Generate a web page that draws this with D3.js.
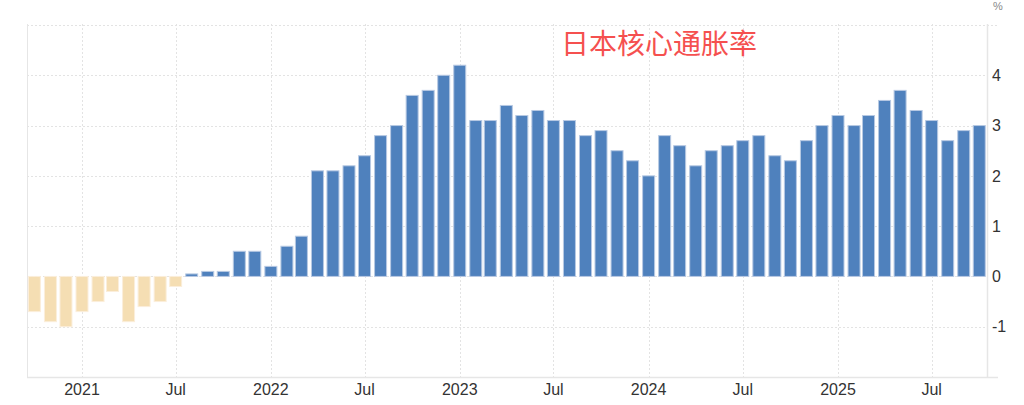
<!DOCTYPE html>
<html><head><meta charset="utf-8">
<script src="https://cdn.jsdelivr.net/npm/d3@7"></script>
<style>
html,body{margin:0;padding:0;background:#fff;}
svg{display:block;font-family:"Liberation Sans",Arial,sans-serif;}
</style></head>
<body><svg id="c" width="1024" height="405"></svg>
<script>
// ---- data ----
const startMonth = "2020-10";   // first bar
const values = [
  -0.7,-0.9,-1.0,                                   // 2020 Oct-Dec
  -0.7,-0.5,-0.3,-0.9,-0.6,-0.5,-0.2,0.05,0.1,0.1,0.5,0.5, // 2021
  0.2,0.6,0.8,2.1,2.1,2.2,2.4,2.8,3.0,3.6,3.7,4.0,  // 2022
  4.2,3.1,3.1,3.4,3.2,3.3,3.1,3.1,2.8,2.9,2.5,2.3,  // 2023
  2.0,2.8,2.6,2.2,2.5,2.6,2.7,2.8,2.4,2.3,2.7,3.0,  // 2024
  3.2,3.0,3.2,3.5,3.7,3.3,3.1,2.7,2.9,3.0           // 2025 Jan-Oct
];
const yTicks = [-1,0,1,2,3,4];
const yGrid = [-1,0,1,2,3,4,5];
const xTickDates = ["2021-01","2021-07","2022-01","2022-07","2023-01","2023-07","2024-01","2024-07","2025-01","2025-07"];
const xTickLabels = ["2021","Jul","2022","Jul","2023","Jul","2024","Jul","2025","Jul"];
const title = "日本核心通胀率";
const unit = "%";

// ---- layout ----
const L = 27, R = 987, T = 24, B = 377;
const svg = d3.select("#c");
const parse = s => { const [y,m] = s.split("-").map(Number); return new Date(Date.UTC(y, m-1, 1)); };
const d0 = parse(startMonth);
const data = values.map((v,i) => ({date: new Date(Date.UTC(d0.getUTCFullYear(), d0.getUTCMonth()+i, 1)), v}));

const x = d3.scaleUtc().domain([parse("2021-01"), parse("2025-01")]).range([82, 838]);
const y = d3.scaleLinear().domain([-2, 5]).range([B, T+1]);

// grid
const grid = svg.append("g");
grid.selectAll("line.h").data(yGrid).join("line")
  .attr("x1", L).attr("x2", v => v===5 ? 998 : R)
  .attr("y1", d => Math.round(y(d))+0.5).attr("y2", d => Math.round(y(d))+0.5)
  .attr("stroke", "#e3e3e3").attr("stroke-dasharray", "2,2");
grid.selectAll("line.v").data(xTickDates).join("line")
  .attr("x1", d => Math.round(x(parse(d)))+0.5).attr("x2", d => Math.round(x(parse(d)))+0.5)
  .attr("y1", T).attr("y2", B)
  .attr("stroke", "#e3e3e3").attr("stroke-dasharray", "2,2");

// frame
svg.append("line").attr("x1", L+0.5).attr("x2", L+0.5).attr("y1", T).attr("y2", B).attr("stroke", "#e6e6e6");
svg.append("line").attr("x1", R+0.5).attr("x2", R+0.5).attr("y1", T).attr("y2", B).attr("stroke", "#e6e6e6").attr("stroke-width", 1.5);
svg.append("line").attr("x1", L).attr("x2", 998).attr("y1", B+0.5).attr("y2", B+0.5).attr("stroke", "#e6e6e6").attr("stroke-width", 1.5);

// bars
const bw = 12;
svg.append("g").selectAll("rect").data(data).join("rect")
  .attr("x", d => x(d.date) - bw/2)
  .attr("width", bw)
  .attr("y", d => y(Math.max(0, d.v)))
  .attr("height", d => Math.abs(y(d.v) - y(0)))
  .attr("fill", d => d.v < 0 ? "#f5deb3" : "#4f81bd")
  .attr("stroke", d => d.v < 0 ? "#fbeedb" : "#b7c9e3")
  .attr("stroke-width", 1);

// y labels
svg.append("g").selectAll("text").data(yTicks).join("text")
  .attr("x", 992).attr("y", d => y(d)).attr("dy", "0.36em")
  .attr("font-size", 16).attr("fill", "#333").text(d => d);
svg.append("text").attr("x", 993).attr("y", 10).attr("font-size", 11).attr("fill", "#888").text(unit);

// x labels
svg.append("g").selectAll("text").data(xTickDates).join("text")
  .attr("x", d => x(parse(d))).attr("y", 395)
  .attr("text-anchor", "middle").attr("font-size", 16).attr("fill", "#333")
  .text((d,i) => xTickLabels[i]);

// title
svg.append("text").attr("x", 561).attr("y", 54)
  .attr("font-family", "'Noto Sans CJK SC', sans-serif")
  .attr("font-size", 28).attr("fill", "#f5504f").text(title);
</script>
</body></html>
